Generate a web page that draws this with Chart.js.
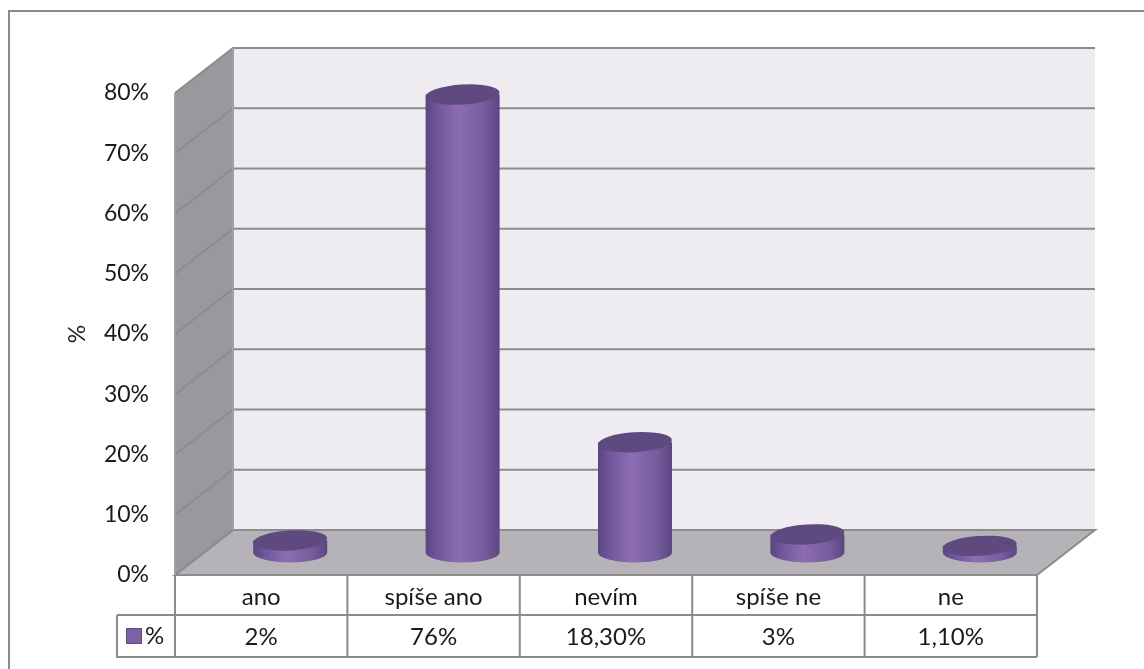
<!DOCTYPE html>
<html>
<head>
<meta charset="utf-8">
<script src="https://cdn.jsdelivr.net/npm/chart.js@4/dist/chart.umd.min.js"></script>
<style>
    body { margin: 0; background: #fff; }
    #wrap { width: 1144px; height: 669px; position: relative; }
</style>
</head>
<body>
<div id="wrap"><canvas id="answers"></canvas></div>
<script>
var categories = ['ano', 'spíše ano', 'nevím', 'spíše ne', 'ne'];
var values = [2, 76, 18.3, 3, 1.1];
var valueLabels = ['2%', '76%', '18,30%', '3%', '1,10%'];
var seriesName = '%';
var yTicks = [0, 10, 20, 30, 40, 50, 60, 70, 80];

var depthX = 58, depthY = -45;
var fontFamily = 'Lato, "Open Sans", sans-serif';
var lineGray = '#8c8c8c';

/*!
* 3d walls, cylinders and data table
*/
var box3d = {
    id: 'box3d',
    beforeDatasetsDraw: function(chart) {
        var ctx = chart.ctx;
        var y = chart.scales.y;
        var L = chart.chartArea.left, R = chart.chartArea.right;
        var top = y.getPixelForValue(yTicks[yTicks.length - 1]);
        var bottom = y.getPixelForValue(0);

        ctx.save();
        // outer frame
        ctx.strokeStyle = lineGray;
        ctx.lineWidth = 2;
        ctx.beginPath();
        ctx.moveTo(9, chart.height);
        ctx.lineTo(9, 11);
        ctx.lineTo(chart.width, 11);
        ctx.stroke();

        // back wall
        ctx.fillStyle = '#eeecf1';
        ctx.fillRect(L + depthX, top + depthY, R - L, bottom - top);
        // side wall
        ctx.fillStyle = '#99989c';
        ctx.beginPath();
        ctx.moveTo(L, top);
        ctx.lineTo(L + depthX, top + depthY);
        ctx.lineTo(L + depthX, bottom + depthY);
        ctx.lineTo(L, bottom);
        ctx.closePath();
        ctx.fill();
        // floor
        ctx.fillStyle = '#b5b3b8';
        ctx.beginPath();
        ctx.moveTo(L, bottom);
        ctx.lineTo(L + depthX, bottom + depthY);
        ctx.lineTo(R + depthX, bottom + depthY);
        ctx.lineTo(R, bottom);
        ctx.closePath();
        ctx.fill();
        ctx.stroke();

        // grid lines on side and back wall
        ctx.strokeStyle = lineGray;
        ctx.lineWidth = 2;
        yTicks.forEach(function(v) {
            var py = y.getPixelForValue(v);
            ctx.beginPath();
            ctx.moveTo(L, py);
            ctx.lineTo(L + depthX, py + depthY);
            ctx.lineTo(R + depthX, py + depthY);
            ctx.stroke();
        });
        ctx.strokeStyle = '#a0a0a0';
        ctx.beginPath();
        ctx.moveTo(L, top);
        ctx.lineTo(L, bottom);
        ctx.moveTo(L + depthX, top + depthY);
        ctx.lineTo(L + depthX, bottom + depthY);
        ctx.stroke();
        ctx.restore();
    },
    afterDatasetsDraw: function(chart) {
        var ctx = chart.ctx;
        var meta = chart.getDatasetMeta(0);
        var rx = 37, ry = 10;
        ctx.save();
        meta.data.forEach(function(bar) {
            var cx = bar.x + depthX * 0.5;
            var yb = bar.base + depthY * 0.5;
            var yt = bar.y + depthY * 0.5;
            var g = ctx.createLinearGradient(cx - rx, 0, cx + rx, 0);
            g.addColorStop(0, '#5a4580');
            g.addColorStop(0.15, '#6f5698');
            g.addColorStop(0.45, '#8c6db3');
            g.addColorStop(0.8, '#765c9e');
            g.addColorStop(1, '#5b4682');
            ctx.fillStyle = g;
            ctx.beginPath();
            ctx.moveTo(cx - rx, yt);
            ctx.lineTo(cx - rx, yb);
            ctx.ellipse(cx, yb, rx, ry, 0, Math.PI, 0, true);
            ctx.lineTo(cx + rx, yt);
            ctx.closePath();
            ctx.fill();
            ctx.fillStyle = '#5f4a80';
            ctx.beginPath();
            ctx.ellipse(cx, yt, rx, ry, -0.06, 0, Math.PI * 2);
            ctx.fill();
        });
        ctx.restore();
    },
    afterDraw: function(chart) {
        var ctx = chart.ctx;
        var x = chart.scales.x;
        var y = chart.scales.y;
        var bottom = y.getPixelForValue(0);
        var L = chart.chartArea.left, R = chart.chartArea.right;
        var row1 = bottom + 40, row2 = bottom + 82;
        var keyLeft = 117;
        var half = (R - L) / categories.length / 2;

        ctx.save();
        ctx.strokeStyle = lineGray;
        ctx.lineWidth = 2;
        ctx.beginPath();
        ctx.moveTo(L, bottom);
        ctx.lineTo(L, row2);
        ctx.moveTo(keyLeft, row1);
        ctx.lineTo(R, row1);
        ctx.moveTo(keyLeft, row1);
        ctx.lineTo(keyLeft, row2);
        ctx.lineTo(R, row2);
        categories.forEach(function(c, i) {
            var px = x.getPixelForValue(i) + half;
            ctx.moveTo(px, bottom);
            ctx.lineTo(px, row2);
        });
        ctx.stroke();

        ctx.fillStyle = '#1a1a1a';
        ctx.font = '24px ' + fontFamily;
        ctx.textAlign = 'center';
        ctx.textBaseline = 'middle';
        categories.forEach(function(c, i) {
            var px = x.getPixelForValue(i);
            ctx.fillText(c, px, (bottom + row1) / 2 + 2);
            ctx.fillText(valueLabels[i], px, (row1 + row2) / 2 + 1);
        });

        // legend key
        ctx.fillStyle = '#7d61a6';
        ctx.strokeStyle = '#5e4a80';
        ctx.lineWidth = 1;
        ctx.fillRect(126, (row1 + row2) / 2 - 8, 16, 16);
        ctx.strokeRect(126.5, (row1 + row2) / 2 - 7.5, 15, 15);
        ctx.fillStyle = '#1a1a1a';
        ctx.textAlign = 'left';
        ctx.fillText(seriesName, 145, (row1 + row2) / 2);
        ctx.restore();
    }
};

var ctx = document.getElementById('answers').getContext('2d');
var answers = new Chart(ctx, {
    type: 'bar',
    data: {
        labels: categories,
        datasets: [{
            label: seriesName,
            data: values,
            backgroundColor: 'rgba(0,0,0,0)',
            borderWidth: 0
        }]
    },
    options: {
        responsive: true,
        maintainAspectRatio: false,
        animation: false,
        layout: {
            padding: { top: 93, bottom: 94, left: 0, right: 107 }
        },
        plugins: {
            legend: { display: false },
            tooltip: { enabled: false }
        },
        scales: {
            x: {
                display: false
            },
            y: {
                min: 0,
                max: 80,
                afterFit: function(scale) { scale.width = 175; },
                grid: { display: false, drawTicks: false },
                border: { display: false },
                ticks: {
                    stepSize: 10,
                    padding: 26,
                    color: '#1a1a1a',
                    font: { family: fontFamily, size: 23 },
                    callback: function(v) { return v + '%'; }
                },
                title: {
                    display: true,
                    text: seriesName,
                    color: '#1a1a1a',
                    padding: { top: 64, bottom: 0 },
                    font: { family: fontFamily, size: 23 }
                }
            }
        }
    },
    plugins: [box3d]
});
</script>
</body>
</html>
